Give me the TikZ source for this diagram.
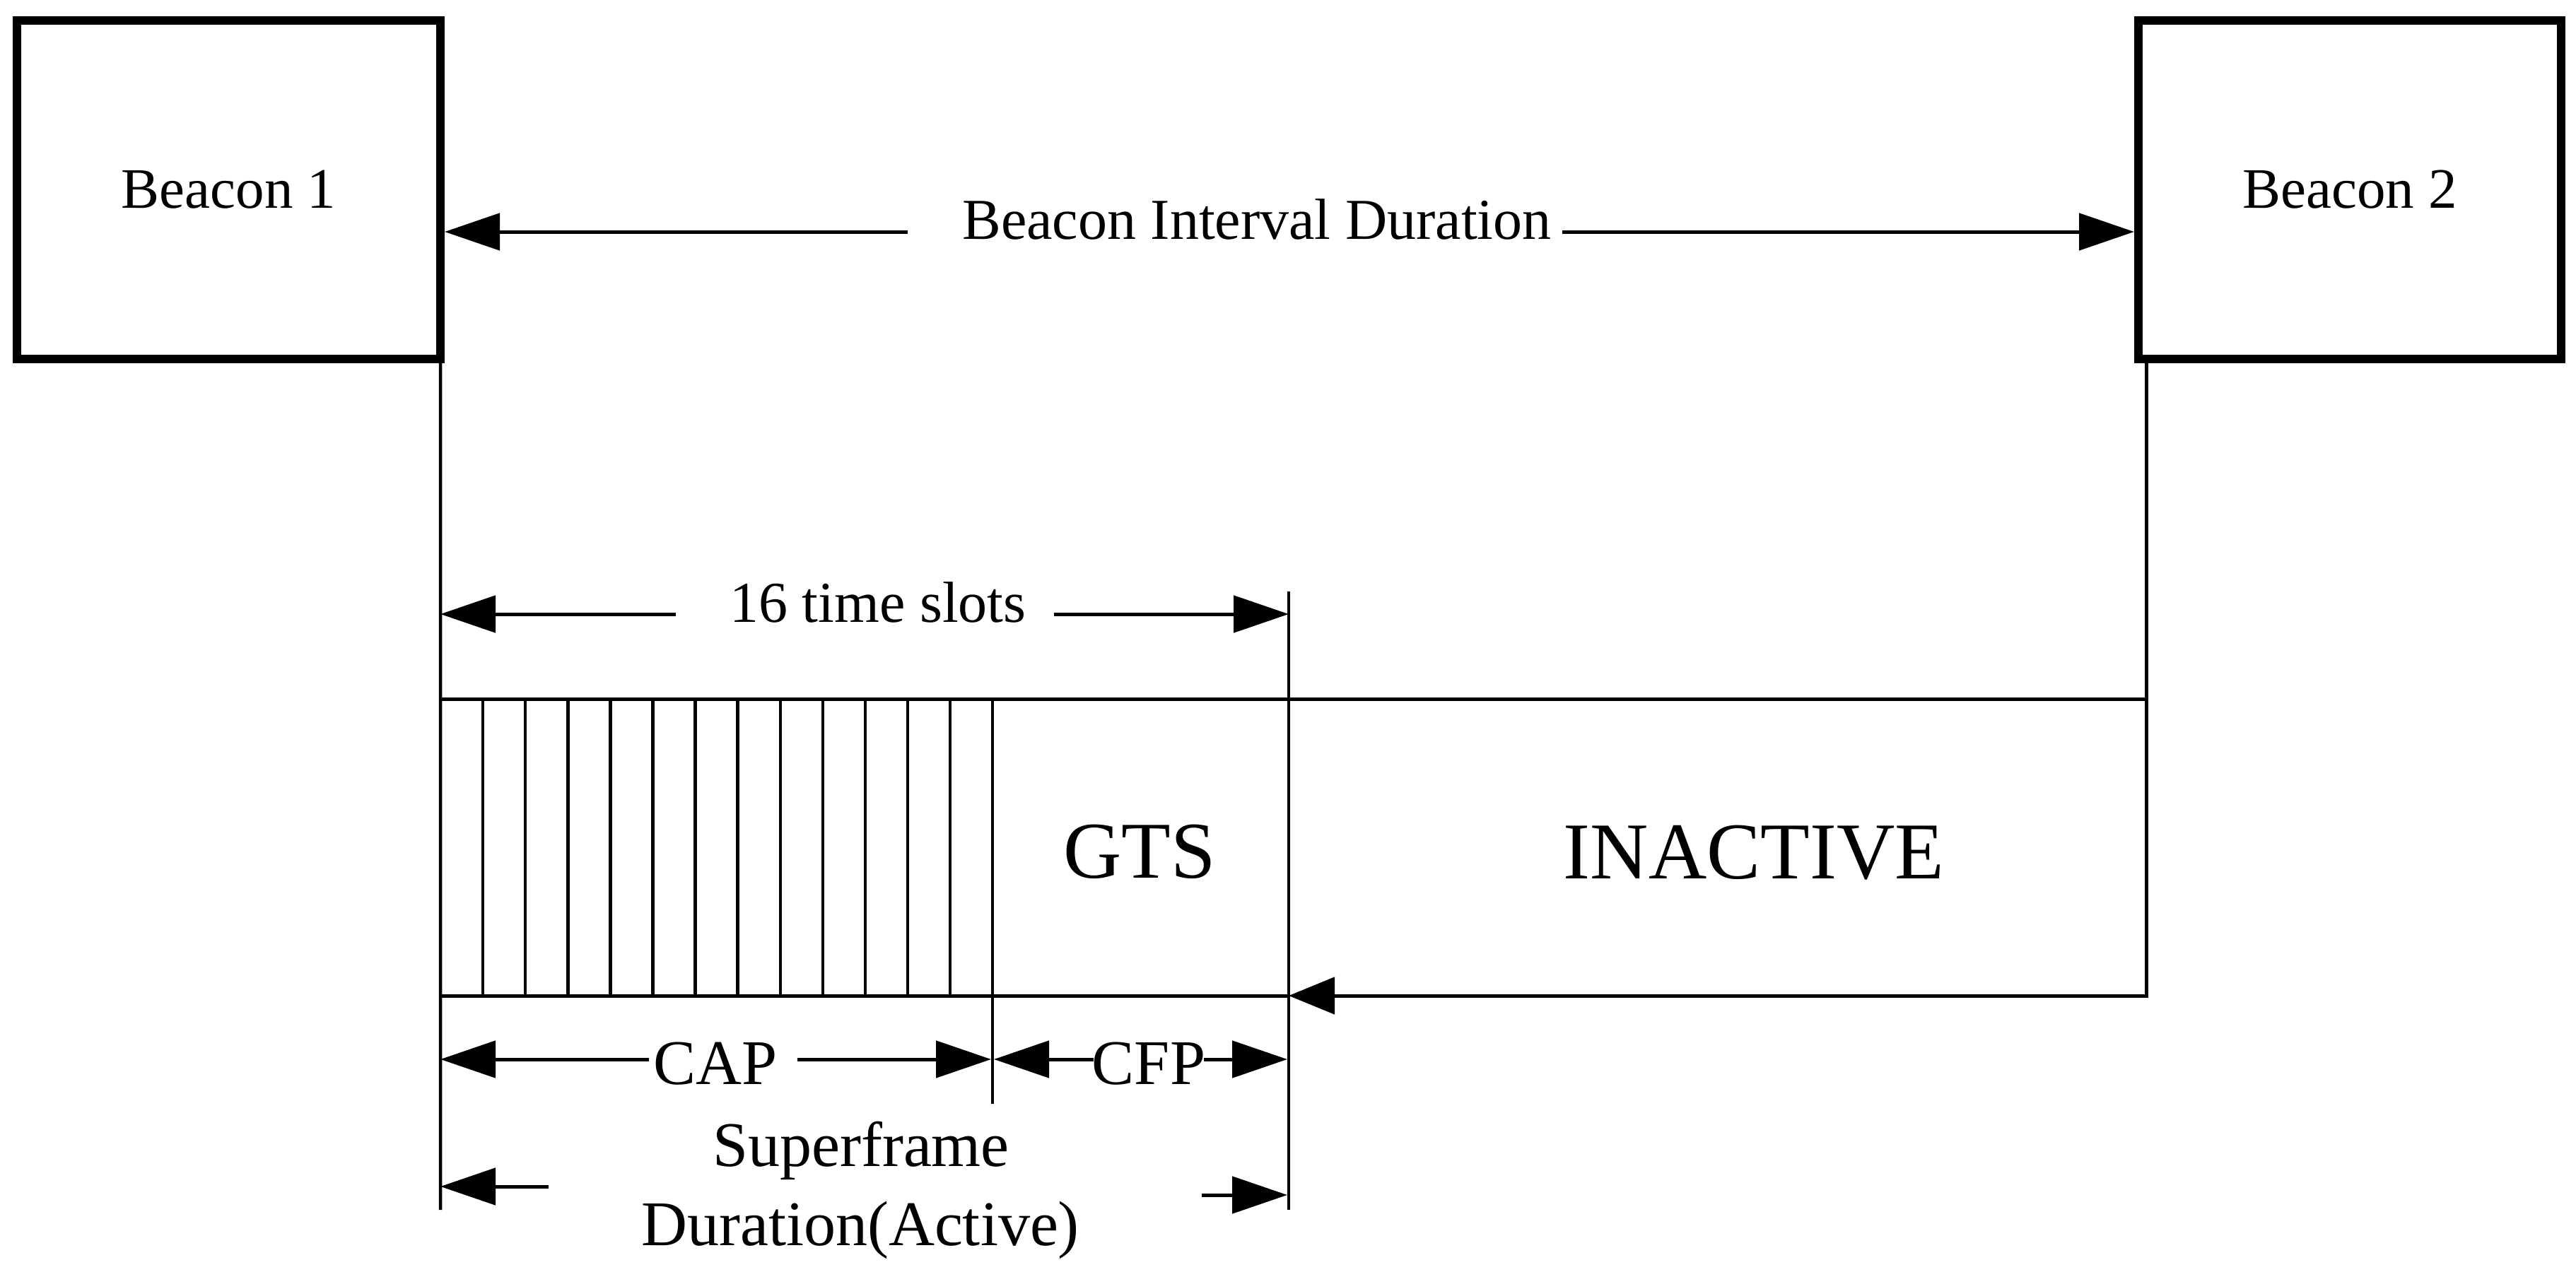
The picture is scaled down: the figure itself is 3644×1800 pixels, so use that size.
\documentclass[tikz,border=0pt]{standalone}
\usepackage{fontspec}
\setmainfont{Liberation Serif}
\usetikzlibrary{arrows.meta}
\begin{document}
\begin{tikzpicture}[x=0.2pt,y=-0.2pt,
  >={Triangle[length=15.6pt,width=10.4pt]},
  thinln/.style={line width=0.9pt},
  ln/.style={line width=1pt},
  beacon/.style={draw, line width=2.4pt, minimum height=95.8pt, inner sep=0pt,
    font=\fontsize{16.2}{19}\selectfont},
  lbl/.style={inner sep=0pt, anchor=base, font=\fontsize{16.4}{19}\selectfont},
  sublbl/.style={inner sep=0pt, anchor=base, font=\fontsize{18}{22}\selectfont},
  biglbl/.style={inner sep=0pt, anchor=base, font=\fontsize{22.8}{27}\selectfont}
]
\path[fill=white] (0,0) rectangle (3644,1800);

% beacons
\node[beacon, minimum width=119.8pt] (b1) at (323.5,268.5) {Beacon 1};
\node[beacon, minimum width=119.6pt] (b2) at (3324,268.5) {Beacon 2};

% beacon interval
\node[lbl] (bid) at (1778,338) {Beacon Interval Duration};
\coordinate (bidl) at (1284,328);
\coordinate (bidr) at (2210,328);
\draw[ln,<-] (b1.east |- bidl) -- (bidl);
\draw[ln,->] (bidr) -- (b2.west |- bidr);

% main vertical lines
\coordinate (l1b) at (623,1712);
\draw[thinln] ([xshift=-1.2pt]b1.south east) -- (l1b);
\coordinate (l2b) at (3036,1409);
\coordinate (rt) at (1823,837);
\coordinate (rb) at (1823,1712);
\coordinate (rm) at (1823,1409);
\draw[thinln] (rt) -- (rb);

% frame
\coordinate (ftl) at (623,989);
\coordinate (ftr) at (3036,989);
\coordinate (fbl) at (623,1409);
\draw[ln] (ftl) -- (ftr);
\draw[ln] (fbl) -- (rm);
\draw[ln,-{Triangle[length=13pt,width=10.4pt]}] (b2.south west -| l2b) -- (l2b) -- (rm);

% slots
\foreach \i in {1,...,12}
  \draw[thinln] ({623+\i*60.1},989) -- ({623+\i*60.1},1409);
\coordinate (dvt) at (1404,989);
\coordinate (dvb) at (1404,1562);
\draw[thinln] (dvt) -- (dvb);

% 16 time slots
\node[lbl] (ts) at (1242,880) {16 time slots};
\coordinate (tsl0) at (623,869);
\coordinate (tsl1) at (956,869);
\coordinate (tsr0) at (1491,869);
\coordinate (tsr1) at (1823,869);
\draw[ln,<-] (tsl0) -- (tsl1);
\draw[ln,->] (tsr0) -- (tsr1);

% region labels
\node[biglbl] (gts) at (1612,1242) {GTS};
\node[biglbl] (inact) at (2481,1243) {INACTIVE};

% CAP / CFP
\node[sublbl] (cap) at (1012,1534) {CAP};
\coordinate (capl0) at (623,1499);
\coordinate (capl1) at (918,1499);
\coordinate (capr0) at (1128,1499);
\coordinate (capr1) at (1402,1499);
\draw[ln,<-] (capl0) -- (capl1);
\draw[ln,->] (capr0) -- (capr1);

\node[sublbl] (cfp) at (1625,1534) {CFP};
\coordinate (cfpl0) at (1406,1499);
\coordinate (cfpl1) at (1547,1499);
\coordinate (cfpr0) at (1703,1499);
\coordinate (cfpr1) at (1821,1499);
\draw[ln,<-] (cfpl0) -- (cfpl1);
\draw[ln,->] (cfpr0) -- (cfpr1);

% superframe duration
\node[sublbl] (sf1) at (1218,1650) {Superframe};
\node[sublbl] (sf2) at (1217,1762) {Duration(Active)};
\coordinate (sfl0) at (623,1679);
\coordinate (sfl1) at (776,1679);
\coordinate (sfr0) at (1700,1691);
\coordinate (sfr1) at (1821,1691);
\draw[ln,<-] (sfl0) -- (sfl1);
\draw[ln,->] (sfr0) -- (sfr1);
\end{tikzpicture}
\end{document}
